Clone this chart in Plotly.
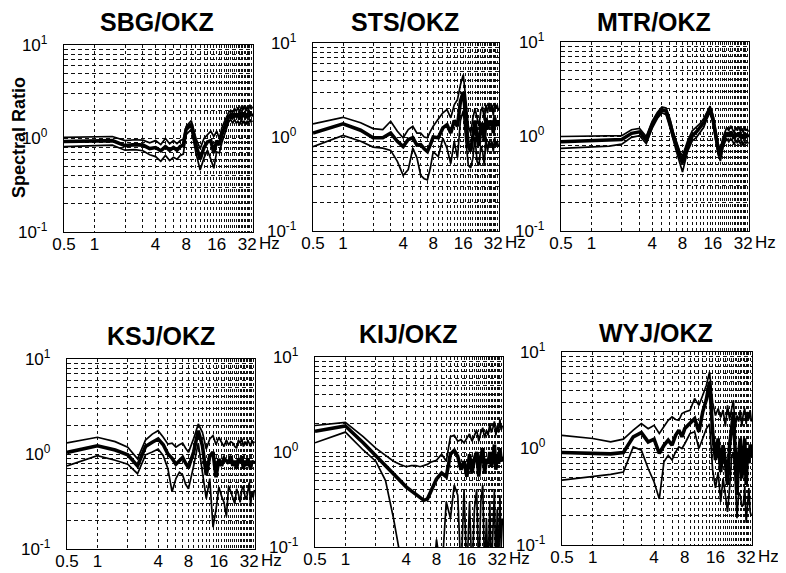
import plotly.graph_objects as go

# ---------------- data ----------------
freq = [0.5, 1, 1.5, 2, 2.5, 3, 3.5, 4, 4.5, 5, 5.5, 6, 6.5, 7, 7.5, 8,
        9, 10, 11, 12, 13, 14, 15, 16, 17, 18, 19, 20, 21, 22, 23, 24,
        25, 26, 27, 28, 29, 30, 31, 32, 33, 34, 35, 36]

titles = ["SBG/OKZ", "STS/OKZ", "MTR/OKZ", "KSJ/OKZ", "KIJ/OKZ", "WYJ/OKZ"]

sbg_upper = [1.03, 1.04, 1.05, 0.95, 0.97, 0.96, 0.90, 0.95, 0.86, 1.00, 0.88, 0.95, 0.88, 0.95, 0.98, 1.35,
             1.55, 1.00, 0.78, 1.00, 1.10, 1.20, 1.05, 1.20, 1.00, 1.30, 1.50, 1.70, 1.90, 2.00, 1.90, 2.10,
             1.95, 2.15, 1.90, 2.20, 2.00, 2.25, 1.95, 2.20, 2.00, 2.30, 2.05, 2.20]
sbg_mean = [0.93, 0.94, 0.95, 0.84, 0.86, 0.85, 0.78, 0.80, 0.74, 0.82, 0.75, 0.80, 0.75, 0.82, 0.85, 1.25,
            1.42, 0.85, 0.60, 0.80, 0.92, 0.95, 0.70, 0.95, 0.85, 1.10, 1.30, 1.50, 1.70, 1.80, 1.65, 1.85,
            1.70, 1.85, 1.60, 1.90, 1.70, 1.90, 1.65, 1.85, 1.70, 1.95, 1.75, 1.85]
sbg_lower = [0.82, 0.84, 0.85, 0.75, 0.76, 0.74, 0.67, 0.64, 0.57, 0.66, 0.58, 0.63, 0.60, 0.66, 0.68, 1.10,
             1.25, 0.70, 0.46, 0.62, 0.75, 0.60, 0.48, 0.72, 0.70, 0.90, 1.10, 1.30, 1.50, 1.60, 1.45, 1.60,
             1.45, 1.55, 1.40, 1.60, 1.45, 1.55, 1.40, 1.55, 1.45, 1.60, 1.50, 1.55]

sts_upper = [1.38, 1.62, 1.42, 1.23, 1.20, 1.47, 1.15, 0.98, 1.20, 1.30, 1.10, 1.10, 1.00, 0.98, 1.15, 1.30,
             1.55, 1.81, 1.96, 1.60, 2.20, 2.50, 3.60, 4.60, 2.50, 1.30, 1.10, 1.60, 2.00, 1.60, 1.30, 1.90,
             2.10, 1.50, 2.20, 1.80, 2.30, 1.90, 2.20, 1.70, 2.30, 2.00, 2.20, 1.90]
sts_mean = [1.10, 1.38, 1.18, 0.98, 0.98, 1.10, 0.90, 0.79, 0.94, 0.98, 0.82, 0.83, 0.75, 0.70, 0.83, 1.00,
            0.98, 1.25, 1.35, 1.10, 1.50, 1.30, 2.40, 3.00, 1.60, 0.80, 0.70, 1.00, 1.50, 1.00, 0.80, 1.30,
            1.40, 0.90, 1.60, 1.20, 1.50, 1.30, 1.50, 1.10, 1.60, 1.30, 1.50, 1.30]
sts_lower = [0.79, 1.04, 0.90, 0.78, 0.76, 0.72, 0.55, 0.39, 0.45, 0.76, 0.60, 0.39, 0.36, 0.35, 0.47, 0.70,
             0.62, 0.97, 0.76, 0.52, 0.90, 0.60, 1.50, 1.90, 0.90, 0.50, 0.47, 0.60, 1.00, 0.55, 0.50, 0.80,
             0.70, 0.50, 1.00, 0.70, 0.90, 0.80, 0.90, 0.70, 1.00, 0.80, 0.90, 0.80]

mtr_upper = [1.00, 1.01, 1.01, 1.02, 1.18, 1.22, 1.00, 1.45, 1.80, 2.05, 2.00, 1.55, 1.10, 0.88, 0.70, 0.62,
             0.90, 1.15, 1.25, 1.38, 1.55, 1.85, 2.10, 1.70, 1.20, 0.85, 0.72, 0.95, 1.10, 1.25, 1.15, 1.30,
             1.20, 1.10, 1.25, 1.15, 1.28, 1.12, 1.22, 1.10, 1.25, 1.15, 1.20, 1.12]
mtr_mean = [0.88, 0.90, 0.91, 0.93, 1.08, 1.12, 0.92, 1.33, 1.68, 1.92, 1.85, 1.40, 1.00, 0.78, 0.62, 0.52,
            0.80, 1.02, 1.12, 1.25, 1.40, 1.70, 1.95, 1.55, 1.05, 0.75, 0.62, 0.85, 0.98, 1.10, 1.00, 1.12,
            1.05, 0.95, 1.08, 1.00, 1.10, 0.97, 1.05, 0.95, 1.07, 1.00, 1.03, 0.98]
mtr_lower = [0.75, 0.77, 0.79, 0.83, 0.98, 1.02, 0.84, 1.22, 1.55, 1.78, 1.70, 1.25, 0.88, 0.68, 0.53, 0.42,
             0.70, 0.90, 0.98, 1.10, 1.25, 1.55, 1.80, 1.40, 0.92, 0.65, 0.55, 0.75, 0.86, 0.95, 0.88, 0.95,
             0.90, 0.82, 0.92, 0.85, 0.92, 0.83, 0.90, 0.80, 0.90, 0.85, 0.88, 0.84]

ksj_upper = [1.31, 1.50, 1.35, 1.18, 0.89, 1.40, 1.62, 1.76, 1.50, 1.27, 1.30, 1.18, 1.25, 1.30, 1.15, 1.04,
             1.45, 2.07, 1.69, 1.13, 1.44, 1.56, 1.25, 1.50, 1.33, 1.20, 1.40, 1.25, 1.35, 1.30, 1.20, 1.15,
             1.40, 1.30, 1.45, 1.20, 1.35, 1.25, 1.40, 1.30, 1.20, 1.40, 1.30, 1.35]
ksj_mean = [1.04, 1.22, 1.10, 0.98, 0.75, 1.20, 1.33, 1.44, 1.25, 1.00, 0.90, 0.78, 0.85, 0.92, 0.80, 0.72,
            1.05, 1.76, 1.22, 0.60, 0.95, 1.05, 0.57, 0.89, 0.75, 0.90, 0.85, 0.80, 0.95, 0.75, 0.85, 0.70,
            0.90, 0.80, 0.95, 0.70, 0.85, 0.75, 0.90, 0.80, 0.70, 0.85, 0.80, 0.85]
ksj_lower = [0.75, 0.96, 0.86, 0.78, 0.62, 0.98, 1.05, 1.13, 0.96, 0.70, 0.40, 0.55, 0.64, 0.60, 0.48, 0.43,
             0.75, 1.30, 0.64, 0.34, 0.55, 0.17, 0.26, 0.45, 0.36, 0.31, 0.22, 0.46, 0.40, 0.34, 0.30, 0.43,
             0.38, 0.31, 0.42, 0.46, 0.36, 0.33, 0.40, 0.50, 0.28, 0.40, 0.35, 0.42]

kij_upper = [1.90, 2.05, 1.45, 1.10, 0.92, 0.80, 0.74, 0.70, 0.72, 0.72, 0.70, 0.72, 0.74, 0.78, 0.80, 0.82,
             0.95, 0.80, 1.45, 1.50, 1.30, 1.35, 1.25, 1.40, 1.55, 1.30, 1.50, 1.70, 1.30, 1.60, 1.80, 1.40,
             1.70, 1.50, 2.00, 1.60, 1.80, 2.10, 1.50, 1.90, 1.60, 2.20, 1.70, 1.90]
kij_mean = [1.65, 1.88, 1.25, 0.92, 0.72, 0.58, 0.50, 0.43, 0.39, 0.36, 0.33, 0.31, 0.32, 0.38, 0.45, 0.52,
            0.60, 0.55, 0.95, 1.04, 0.90, 0.65, 0.80, 0.55, 0.95, 0.60, 0.85, 1.00, 0.55, 0.90, 1.10, 0.60,
            0.85, 0.75, 1.00, 0.70, 0.90, 1.20, 0.65, 0.95, 0.75, 1.10, 0.80, 0.90]
kij_lower = [1.25, 1.62, 1.05, 0.80, 0.50, 0.20, 0.08, 0.05, 0.05, 0.05, 0.05, 0.05, 0.05, 0.05, 0.05, 0.12,
             0.05, 0.30, 0.20, 0.45, 0.35, 0.05, 0.40, 0.05, 0.30, 0.05, 0.25, 0.40, 0.05, 0.30, 0.45, 0.05,
             0.20, 0.05, 0.30, 0.05, 0.20, 0.40, 0.05, 0.25, 0.05, 0.35, 0.10, 0.20]

wyj_upper = [1.37, 1.27, 1.17, 1.25, 1.55, 1.81, 1.60, 1.74, 1.43, 1.67, 1.96, 2.13, 2.00, 1.96, 2.30, 2.39,
             2.49, 3.30, 2.80, 3.56, 4.50, 6.20, 3.00, 2.20, 2.60, 2.10, 2.50, 1.70, 2.80, 2.00, 2.60, 3.16,
             1.60, 2.20, 1.90, 2.50, 1.70, 2.30, 2.60, 1.80, 2.40, 2.00, 2.50, 1.90]
wyj_mean = [0.91, 0.89, 0.88, 0.91, 1.32, 1.46, 1.17, 1.25, 0.89, 1.08, 1.22, 1.08, 1.37, 1.55, 1.32, 1.61,
            1.81, 2.04, 1.49, 2.40, 3.20, 4.90, 1.50, 0.76, 1.27, 0.57, 1.08, 0.73, 0.42, 1.08, 1.60, 2.39,
            0.92, 0.33, 0.85, 1.27, 0.49, 0.73, 1.27, 0.42, 1.00, 0.70, 1.10, 0.80]
wyj_lower = [0.47, 0.51, 0.54, 0.57, 1.04, 0.96, 0.62, 0.45, 0.30, 0.73, 0.85, 0.76, 0.92, 1.04, 1.00, 1.12,
             1.43, 1.49, 1.00, 1.27, 1.60, 1.80, 0.60, 0.39, 0.57, 0.28, 0.49, 0.33, 0.22, 0.39, 0.80, 0.92,
             0.49, 0.19, 0.35, 0.33, 0.25, 0.26, 0.40, 0.17, 0.30, 0.39, 0.22, 0.20]

series = [
    (sbg_upper, sbg_mean, sbg_lower),
    (sts_upper, sts_mean, sts_lower),
    (mtr_upper, mtr_mean, mtr_lower),
    (ksj_upper, ksj_mean, ksj_lower),
    (kij_upper, kij_mean, kij_lower),
    (wyj_upper, wyj_mean, wyj_lower),
]

x_tickvals = [0.5, 1, 2, 3, 4, 5, 6, 7, 8, 9, 10, 11, 12, 13, 14, 15, 16, 17, 18, 19, 20,
              21, 22, 23, 24, 25, 26, 27, 28, 29, 30, 31, 32, 33, 34, 35, 36]
x_labels = {0.5: "0.5", 1: "1", 4: "4", 8: "8", 16: "16", 32: "32"}
y_tickvals = [0.1, 0.2, 0.3, 0.4, 0.5, 0.6, 0.7, 0.8, 0.9, 1, 2, 3, 4, 5, 6, 7, 8, 9, 10]
y_labels = {0.1: "10<sup>-1</sup>", 1: "10<sup>0</sup>", 10: "10<sup>1</sup>"}

# ---------------- layout (pixel boxes, page coords) ----------------
OFF = 8                      # default page body margin
W, H = 786 - OFF, 573 - OFF  # figure size so that it fits the window
boxes = [  # x0, x1, y0(top), y1(bottom) in page pixels
    (64, 253, 45, 232),
    (313, 499, 43, 231),
    (561, 749, 42, 231),
    (67, 255, 359, 549),
    (315, 503, 357, 547),
    (562, 752, 352, 545),
]
title_pos = [(157, 22), (405, 22), (654, 22), (161, 336), (408, 334), (656, 333)]


def px(x):
    return (x - OFF) / W


def py(y):
    return 1 - (y - OFF) / H


FONT = "Liberation Sans, Arial, Helvetica, sans-serif"
fig = go.Figure()
annotations = []
layout_axes = {}

for i, (box, (up, mn, lo)) in enumerate(zip(boxes, series)):
    n = "" if i == 0 else str(i + 1)
    xa, ya = "x" + n, "y" + n
    for vals, w in ((up, 1.7), (lo, 1.7), (mn, 3.6)):
        fig.add_trace(go.Scatter(x=freq, y=vals, mode="lines", xaxis=xa, yaxis=ya,
                                 line=dict(color="black", width=w), showlegend=False,
                                 hoverinfo="skip"))
    x0, x1, y0, y1 = box
    layout_axes["xaxis" + n] = dict(
        type="log", range=[-0.30103, 1.5623], domain=[px(x0), px(x1)], anchor=ya,
        tickmode="array", tickvals=x_tickvals,
        ticktext=[x_labels.get(v, "") for v in x_tickvals],
        showgrid=True, gridcolor="#111", gridwidth=1, griddash="3px,3px",
        showline=True, linecolor="black", linewidth=1.3, mirror=True,
        ticks="", zeroline=False, automargin=False, ticklabelstandoff=-4,
        tickfont=dict(family=FONT, size=17, color="black"),
    )
    layout_axes["yaxis" + n] = dict(
        type="log", range=[-1, 1], domain=[py(y1), py(y0)], anchor=xa,
        tickmode="array", tickvals=y_tickvals,
        ticktext=[y_labels.get(v, "") for v in y_tickvals],
        showgrid=True, gridcolor="#111", gridwidth=1, griddash="4px,3px",
        showline=True, linecolor="black", linewidth=1.3, mirror=True,
        ticks="", zeroline=False, ticklabelstandoff=12, automargin=False,
        tickfont=dict(family=FONT, size=17, color="black"),
    )
    tx, ty = title_pos[i]
    annotations.append(dict(text="<b>" + titles[i] + "</b>", x=px(tx), y=py(ty),
                            xref="paper", yref="paper", showarrow=False,
                            xanchor="center", yanchor="middle",
                            font=dict(family=FONT, size=25, color="black")))
    annotations.append(dict(text="Hz", x=1, y=0, xref=xa + " domain", yref=ya + " domain",
                            showarrow=False, xanchor="left", yanchor="top",
                            xshift=4, yshift=0,
                            font=dict(family=FONT, size=17, color="black")))

annotations.append(dict(text="<b>Spectral Ratio</b>", x=px(19), y=py(138),
                        xref="paper", yref="paper", showarrow=False, textangle=-90,
                        xanchor="center", yanchor="middle",
                        font=dict(family=FONT, size=18, color="black")))

fig.update_layout(
    width=W, height=H, autosize=False,
    margin=dict(l=0, r=0, t=0, b=0, autoexpand=False),
    paper_bgcolor="white", plot_bgcolor="white",
    annotations=annotations,
    **layout_axes,
)

fig.write_html("out.html")
